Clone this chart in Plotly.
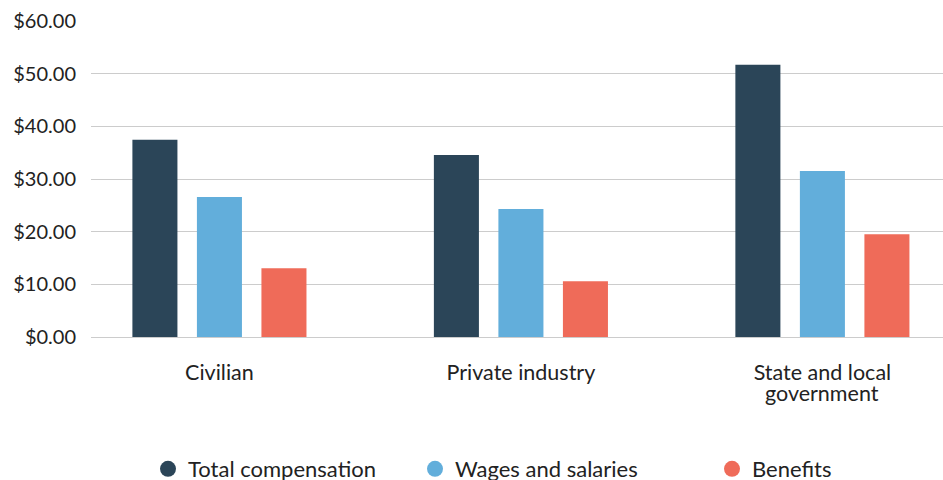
import plotly.graph_objects as go

categories = ["Civilian", "Private industry", "State and local government"]
tick_line1 = ["Civilian", "Private industry", "State and local"]
tick_line2 = ["", "", "government"]
series_names = ["Total compensation", "Wages and salaries", "Benefits"]
total_comp = [37.43, 34.57, 51.71]
wages = [26.57, 24.29, 31.52]
benefits = [13.05, 10.57, 19.52]
y_ticks = [0, 10, 20, 30, 40, 50, 60]
y_tick_labels = ["$0.00", "$10.00", "$20.00", "$30.00", "$40.00", "$50.00", "$60.00"]

colors = ["#2b4558", "#62aedb", "#ef6b59"]
values = [total_comp, wages, benefits]
legend_ids = ["legend", "legend2", "legend3"]
legend_x = [148 / 943, 415 / 943, 712 / 943]

FONT = "Lato, 'Open Sans', sans-serif"
TXT = "#222222"

fig = go.Figure()
for name, vals, col in zip(series_names, values, colors):
    fig.add_trace(go.Bar(x=categories, y=vals, name=name, marker_color=col,
                         marker_line_width=0, showlegend=False))
# legend entries with circular symbols
for name, col, lid in zip(series_names, colors, legend_ids):
    fig.add_trace(go.Scatter(x=[None], y=[None], mode="markers", name=name,
                             marker=dict(symbol="circle", size=17, color=col),
                             showlegend=True, legend=lid))

# second line of wrapped category labels (tight line spacing)
for cat, line2 in zip(categories, tick_line2):
    if line2:
        fig.add_annotation(x=cat, xref="x", y=-0.178, yref="paper",
                           yanchor="middle", text=line2, showarrow=False,
                           font=dict(family=FONT, size=21.5, color=TXT))

legend_common = dict(orientation="h", yanchor="middle", y=1 - 469 / 480,
                     xanchor="left", xref="container", yref="container",
                     font=dict(family=FONT, size=22, color=TXT),
                     bgcolor="rgba(0,0,0,0)")
layout_legends = {}
for lid, lx in zip(legend_ids, legend_x):
    d = dict(legend_common)
    d["x"] = lx
    layout_legends[lid] = d

fig.update_layout(
    width=943, height=480,
    margin=dict(l=91, r=0, t=21, b=143, autoexpand=False),
    paper_bgcolor="white", plot_bgcolor="white",
    barmode="group", bargap=0.358, bargroupgap=0.302,
    font=dict(family=FONT, size=21, color=TXT),
    xaxis=dict(type="category", range=[-0.426, 2.40], showgrid=False,
               showline=False, zeroline=False, ticks="",
               tickvals=categories, ticktext=tick_line1,
               ticklabelstandoff=20, tickfont=dict(size=21.5, color=TXT)),
    yaxis=dict(range=[0, 60], tickvals=y_ticks, ticktext=y_tick_labels,
               showgrid=True, gridcolor="#cccccc", gridwidth=1,
               zeroline=True, zerolinecolor="#cccccc", zerolinewidth=1,
               showline=False, ticks="", ticklabelstandoff=14,
               tickfont=dict(size=20, color=TXT)),
    **layout_legends,
)

fig.write_html("out.html")
